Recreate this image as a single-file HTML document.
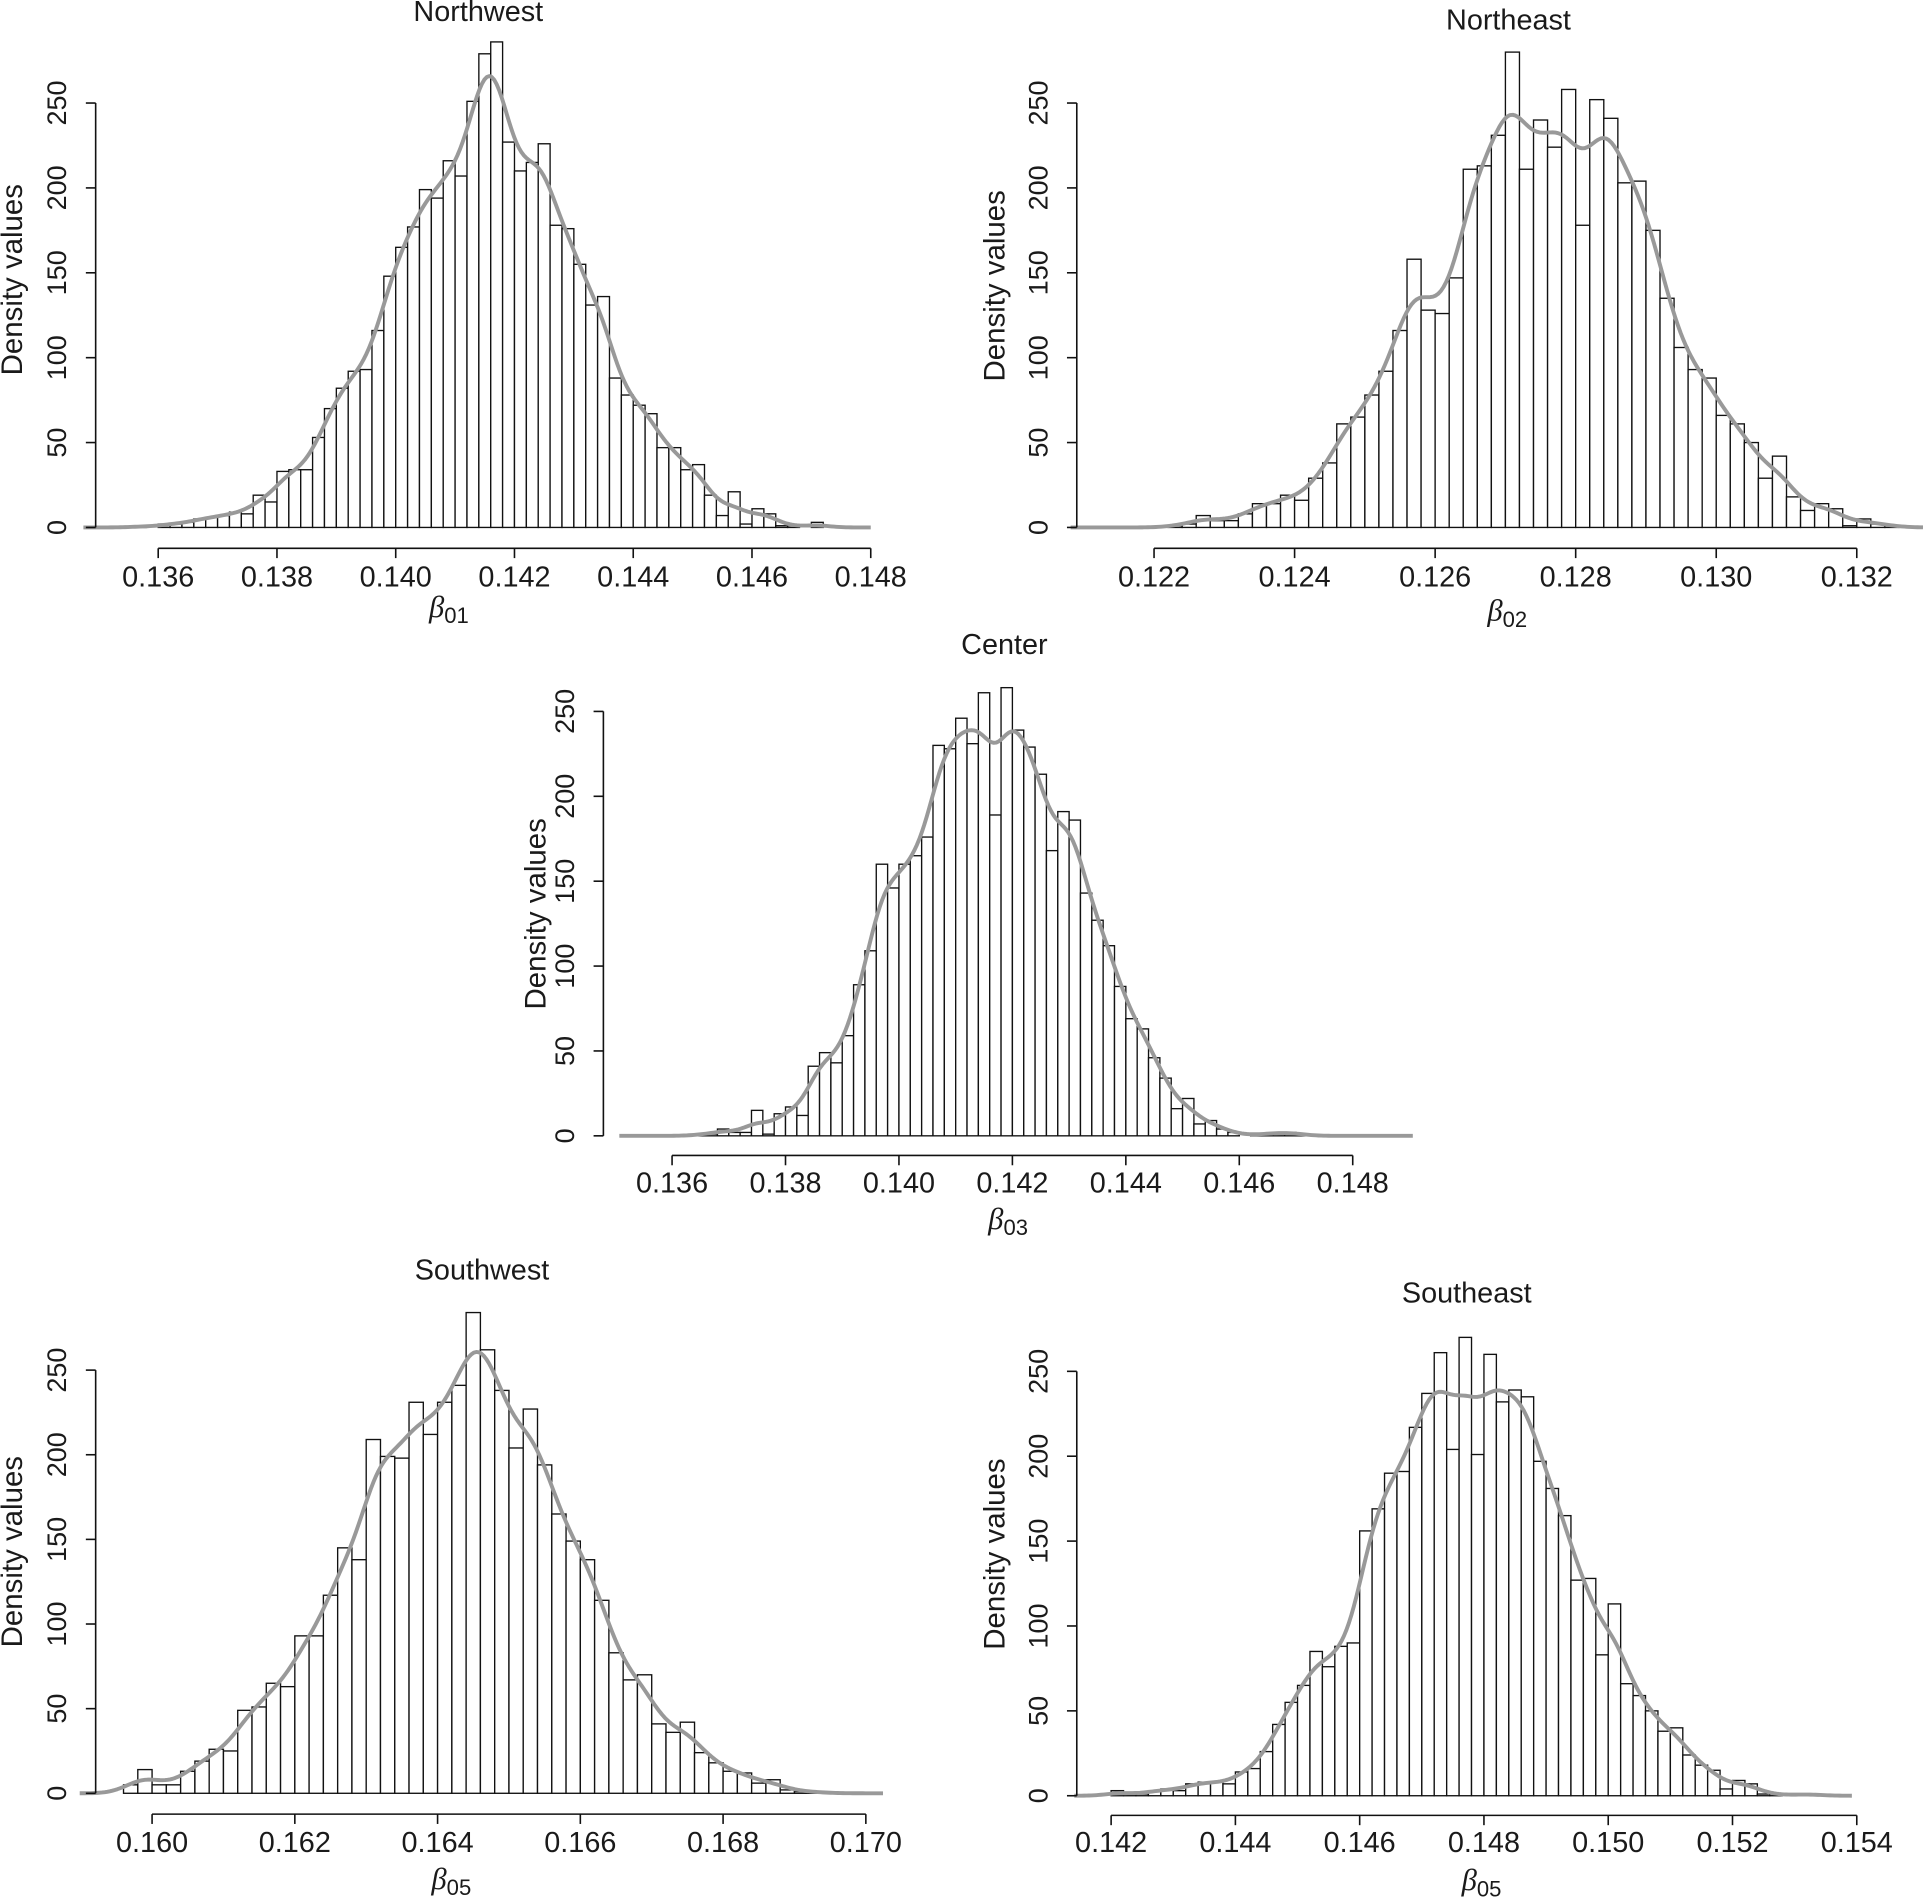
<!DOCTYPE html>
<html><head><meta charset="utf-8"><title>Posterior densities</title>
<style>
html,body{margin:0;padding:0;background:#fff;}
svg{display:block;}
text{font-family:"Liberation Sans",Arial,sans-serif;fill:#1a1a1a;}
</style></head>
<body>
<svg id="chart" xmlns="http://www.w3.org/2000/svg" width="1923" height="1900" viewBox="0 0 1568 1549" preserveAspectRatio="none"></svg>
<script>
// ---- data (bin heights, bin width 0.0002) ----
const yTicks = [0, 50, 100, 150, 200, 250];
const binWidth = 0.0002;

const nwStart = 0.1356;
const nwBins = [1,0,2,2,3,5,6,7,9,8,19,15,33,34,34,53,70,82,92,93,116,148,165,177,199,194,216,207,251,279,286,227,210,215,226,178,176,155,131,136,88,78,72,67,47,47,34,37,19,7,21,2,11,8,1,1,0,3];
const nwTicks = [0.136,0.138,0.140,0.142,0.144,0.146,0.148];

const neStart = 0.1220;
const neBins = [0,1,2,7,4,4,8,14,14,19,16,29,38,61,65,78,92,116,158,128,126,147,211,213,231,280,211,240,224,258,178,252,241,203,204,175,135,106,93,88,66,61,50,29,42,18,10,14,11,1,5,2,1];
const neTicks = [0.122,0.124,0.126,0.128,0.130,0.132];

const ceStart = 0.1360;
const ceBins = [0,0,1,1,4,2,2,15,1,13,17,12,41,49,43,59,89,109,160,146,160,165,176,230,228,246,231,261,189,264,239,229,213,168,191,186,143,127,112,88,69,63,46,34,16,22,7,9,4,2,0,1,1,2,2,1];
const ceTicks = [0.136,0.138,0.140,0.142,0.144,0.146,0.148];

const swStart = 0.1596;
const swBins = [5,14,5,5,13,19,26,25,49,51,65,63,93,93,117,145,138,209,199,198,231,212,231,241,284,262,238,204,227,194,165,149,138,114,83,67,70,41,36,42,24,18,13,12,6,8,2,1,1];
const swTicks = [0.160,0.162,0.164,0.166,0.168,0.170];

const seStart = 0.1420;
const seBins = [3,1,1,3,4,3,7,8,8,7,14,16,26,42,55,65,85,76,88,90,156,169,190,191,217,237,261,204,270,201,260,232,239,235,197,181,165,127,128,83,113,66,59,50,38,40,24,18,15,4,9,7,1,1,0,1,1,0];
const seTicks = [0.142,0.144,0.146,0.148,0.150,0.152,0.154];

// ---- layout (display coordinates) ----
const panels = [
 {key:'northwest', title:'Northwest', sub:'01', start:nwStart, bins:nwBins, ticks:nwTicks,
  ax:78, y0:430, y250:84, t0:0.136, px0:129, t1:0.148, px1:710, axY:447, xMin:68, xMax:710,
  titleX:390, titleY:17, tickY:478, labX:366, labY:503, ylabX:10, ylabY:228},
 {key:'northeast', title:'Northeast', sub:'02', start:neStart, bins:neBins, ticks:neTicks,
  ax:878, y0:430, y250:84, t0:0.122, px0:941, t1:0.132, px1:1514, axY:447, xMin:873, xMax:1568,
  titleX:1230, titleY:24, tickY:478, labX:1229, labY:506, ylabX:811, ylabY:233},
 {key:'center', title:'Center', sub:'03', start:ceStart, bins:ceBins, ticks:ceTicks,
  ax:492, y0:926, y250:580, t0:0.136, px0:548, t1:0.148, px1:1103, axY:942, xMin:505, xMax:1152,
  titleX:819, titleY:533, tickY:972, labX:822, labY:1002, ylabX:437, ylabY:745},
 {key:'southwest', title:'Southwest', sub:'05', start:swStart, bins:swBins, ticks:swTicks,
  ax:78, y0:1462, y250:1117, t0:0.160, px0:124, t1:0.170, px1:706, axY:1479, xMin:65, xMax:720,
  titleX:393, titleY:1043, tickY:1510, labX:368, labY:1540, ylabX:10, ylabY:1265},
 {key:'southeast', title:'Southeast', sub:'05', start:seStart, bins:seBins, ticks:seTicks,
  ax:878, y0:1464, y250:1118, t0:0.142, px0:906, t1:0.154, px1:1514, axY:1480, xMin:876, xMax:1510,
  titleX:1196, titleY:1062, tickY:1510, labX:1208, labY:1541, ylabX:811, ylabY:1267}
];

const NS = 'http://www.w3.org/2000/svg';
const svg = document.getElementById('chart');
function mk(tag, attrs, parent){
  const e = document.createElementNS(NS, tag);
  for (const k in attrs) e.setAttribute(k, attrs[k]);
  parent.appendChild(e);
  return e;
}

panels.forEach(p => {
  const g = mk('g', {}, svg);
  
  
  const xs = v => p.px0 + (v - p.t0) / (p.t1 - p.t0) * (p.px1 - p.px0);
  const ys = v => p.y0 + v / 250 * (p.y250 - p.y0);

  p.bins.forEach((v, i) => {
    const a = p.start + i * binWidth, b = a + binWidth;
    const r = mk('rect', {x: xs(a), y: ys(v), width: xs(b) - xs(a), height: Math.max(0, p.y0 - ys(v)),
      fill: '#fff', stroke: '#111', 'stroke-width': 1.1}, g);
    
    
  });

  const h = binWidth * 1.1;
  let d = '';
  const n = 320;
  for (let j = 0; j <= n; j++) {
    const px = p.xMin + (p.xMax - p.xMin) * j / n;
    const x = p.t0 + (px - p.px0) / (p.px1 - p.px0) * (p.t1 - p.t0);
    let f = 0;
    p.bins.forEach((v, i) => {
      const c = p.start + (i + 0.5) * binWidth;
      const z = (x - c) / h;
      f += v * Math.exp(-0.5 * z * z) * binWidth / (h * Math.sqrt(2 * Math.PI));
    });
    d += (j ? 'L' : 'M') + px.toFixed(2) + ',' + ys(f).toFixed(2);
  }
  const cv = mk('path', {d: d, fill: 'none', stroke: '#999', 'stroke-width': 3.2, 'stroke-linejoin': 'round'}, g);
  
  

  const ya = mk('g', {}, g);
  
  
  mk('line', {x1: p.ax, y1: ys(0), x2: p.ax, y2: ys(250), stroke: '#111', 'stroke-width': 1.3}, ya);
  yTicks.forEach(t => {
    mk('line', {x1: p.ax - 8, y1: ys(t), x2: p.ax, y2: ys(t), stroke: '#111', 'stroke-width': 1.3}, ya);
    const tx = mk('text', {x: p.ax - 32, y: ys(t), 'font-size': 22, 'text-anchor': 'middle',
      transform: `rotate(-90 ${p.ax - 32} ${ys(t)}) translate(0 8)`}, ya);
    
    
    tx.textContent = String(t);
  });
  const yl = mk('text', {x: p.ylabX, y: p.ylabY, 'font-size': 24, 'text-anchor': 'middle',
    transform: `rotate(-90 ${p.ylabX} ${p.ylabY}) translate(0 8)`}, g);
  
  
  yl.textContent = 'Density values';

  const xa = mk('g', {}, g);
  
  
  mk('line', {x1: xs(p.ticks[0]), y1: p.axY, x2: xs(p.ticks[p.ticks.length - 1]), y2: p.axY, stroke: '#111', 'stroke-width': 1.3}, xa);
  p.ticks.forEach(t => {
    mk('line', {x1: xs(t), y1: p.axY, x2: xs(t), y2: p.axY + 8, stroke: '#111', 'stroke-width': 1.3}, xa);
    const tx = mk('text', {x: xs(t), y: p.tickY, 'font-size': 23.5, 'text-anchor': 'middle'}, xa);
    
    
    tx.textContent = t.toFixed(3);
  });
  const xl = mk('text', {x: p.labX, y: p.labY, 'font-size': 22, 'text-anchor': 'middle'}, g);
  
  
  const beta = mk('tspan', {'font-family': '"Liberation Serif",serif', 'font-style': 'italic', 'font-size': 25}, xl);
  beta.textContent = 'β';
  const sub = mk('tspan', {dy: 5, 'font-size': 18}, xl);
  sub.textContent = p.sub;

  const ti = mk('text', {x: p.titleX, y: p.titleY, 'font-size': 23.5, 'text-anchor': 'middle'}, g);
  
  
  ti.textContent = p.title;
});
</script>
</body></html>
